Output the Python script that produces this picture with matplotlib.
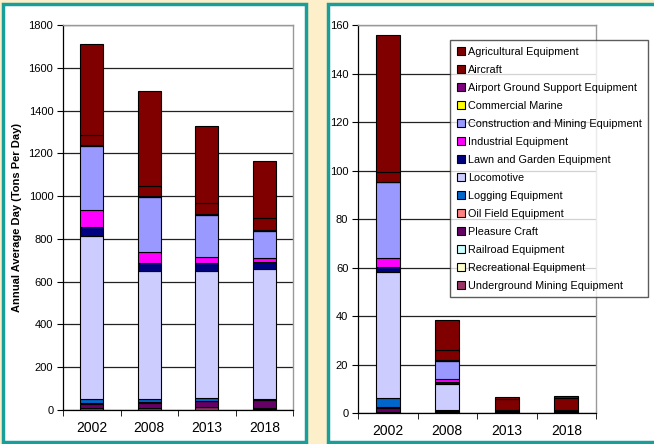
import numpy as np
import matplotlib
matplotlib.use("Agg")
import matplotlib.pyplot as plt
from matplotlib.patches import Rectangle

years = ["2002", "2008", "2013", "2018"]

# legend order (top of stack first)
categories = [
    "Agricultural Equipment",
    "Aircraft",
    "Airport Ground Support Equipment",
    "Commercial Marine",
    "Construction and Mining Equipment",
    "Industrial Equipment",
    "Lawn and Garden Equipment",
    "Locomotive",
    "Logging Equipment",
    "Oil Field Equipment",
    "Pleasure Craft",
    "Railroad Equipment",
    "Recreational Equipment",
    "Underground Mining Equipment",
]

cat_colors = [
    "#800000", "#800000", "#800080", "#FFFF00", "#9999FF", "#FF00FF", "#000080",
    "#CCCCFF", "#0066CC", "#FF8080", "#660066", "#CCFFFF", "#FFFFCC", "#993366",
]

# left chart values, one list per category (2002, 2008, 2013, 2018)
left_agricultural = [425, 443, 357, 267]
left_aircraft = [48, 47, 53, 56]
left_airport_gse = [3, 3, 3, 3]
left_commercial_marine = [0, 0, 0, 0]
left_construction = [300, 258, 200, 125]
left_industrial = [80, 55, 28, 22]
left_lawn_garden = [40, 37, 34, 31]
left_locomotive = [762, 598, 598, 609]
left_logging = [20, 12, 10, 3]
left_oil_field = [4, 3, 2, 2]
left_pleasure = [20, 27, 30, 34]
left_railroad = [0, 0, 0, 0]
left_recreational = [0, 0, 0, 8]
left_underground = [8, 8, 12, 3]

# right chart values
right_agricultural = [56.5, 12.4, 0.7, 0.8]
right_aircraft = [3.9, 4.3, 4.6, 4.9]
right_airport_gse = [0.3, 0.2, 0.0, 0.0]
right_commercial_marine = [0, 0, 0, 0]
right_construction = [31.3, 7.7, 0.05, 0.05]
right_industrial = [3.5, 1.0, 0.05, 0.05]
right_lawn_garden = [2.1, 0.9, 0.4, 0.4]
right_locomotive = [52.1, 10.7, 0.0, 0.0]
right_logging = [3.5, 0.6, 0.2, 0.2]
right_oil_field = [0.5, 0.2, 0.1, 0.1]
right_pleasure = [1.7, 0.3, 0.3, 0.3]
right_railroad = [0, 0, 0, 0]
right_recreational = [0, 0, 0, 0]
right_underground = [0.5, 0.3, 0.3, 0.3]

left_data = [left_agricultural, left_aircraft, left_airport_gse, left_commercial_marine,
             left_construction, left_industrial, left_lawn_garden, left_locomotive,
             left_logging, left_oil_field, left_pleasure, left_railroad,
             left_recreational, left_underground]
right_data = [right_agricultural, right_aircraft, right_airport_gse, right_commercial_marine,
              right_construction, right_industrial, right_lawn_garden, right_locomotive,
              right_logging, right_oil_field, right_pleasure, right_railroad,
              right_recreational, right_underground]

plt.rcParams['font.family'] = ['Liberation Sans', 'DejaVu Sans']

fig = plt.figure(figsize=(6.54, 4.44), dpi=100)
fig.patch.set_facecolor("#FDEFC9")

W, H = 654.0, 444.0
TEAL = "#1A9E9A"

# the two white panels with teal frames
for (x0, x1) in [(3, 306), (328, 670)]:
    fig.add_artist(Rectangle((x0 / W, 2 / H), (x1 - x0) / W, 438 / H,
                             transform=fig.transFigure, facecolor="white",
                             edgecolor=TEAL, linewidth=2.5, zorder=-5))


def draw_stack(ax, data, ymax, ystep, ylabsize):
    x = np.arange(len(years))
    bottom = np.zeros(len(years))
    # stack from bottom (last legend entry) to top
    handles = []
    for i in range(len(categories) - 1, -1, -1):
        vals = np.array(data[i], dtype=float)
        b = ax.bar(x, vals, 0.4, bottom=bottom, color=cat_colors[i],
                   edgecolor="black", linewidth=0.8, label=categories[i], zorder=3)
        handles.append(b)
        bottom += vals
    ax.set_xlim(-0.5, len(years) - 0.5)
    ax.set_ylim(0, ymax)
    ax.set_yticks(np.arange(0, ymax + 1, ystep))
    ax.yaxis.grid(True, color="#222222", linewidth=0.9, zorder=0)
    ax.set_axisbelow(True)
    ax.set_xticks(x)
    ax.set_xticklabels(years, fontsize=10)
    ax.tick_params(axis="x", length=0, pad=8)
    ax.set_xticks(np.arange(-0.5, len(years)), minor=True)
    ax.tick_params(axis="x", which="minor", length=4, color="black", direction="out")
    ax.tick_params(axis="y", labelsize=ylabsize, length=4, color="black", pad=3)
    for s in ["top", "right"]:
        ax.spines[s].set_color("#999999")
        ax.spines[s].set_linewidth(1.0)
    for s in ["left", "bottom"]:
        ax.spines[s].set_color("black")
        ax.spines[s].set_linewidth(0.9)
    return handles[::-1]


ax1 = fig.add_axes([63 / W, (H - 410) / H, 230 / W, 385 / H])
draw_stack(ax1, left_data, 1800, 200, 8)
ax1.set_ylabel("Annual Average Day (Tons Per Day)", fontsize=8, fontweight="bold", labelpad=5)

ax2 = fig.add_axes([358 / W, (H - 413.3) / H, 238 / W, 388.3 / H])
handles = draw_stack(ax2, right_data, 160, 20, 8)

leg = ax2.legend(handles, categories, loc="upper left",
                 bbox_to_anchor=(450 / W, (H - 40) / H), bbox_transform=fig.transFigure,
                 fontsize=7.8, frameon=True, fancybox=False, handlelength=0.75,
                 handleheight=0.75, handletextpad=0.3, labelspacing=0.74,
                 borderpad=0.6, borderaxespad=0)
leg.get_frame().set_edgecolor("#333333")
leg.get_frame().set_linewidth(1.0)
leg.set_zorder(5)

fig.savefig("out.png", dpi=100, facecolor=fig.get_facecolor())
